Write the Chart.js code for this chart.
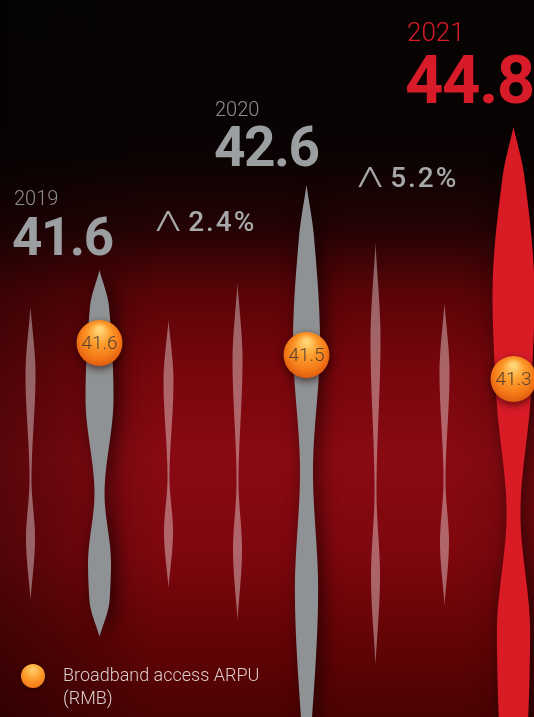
<!DOCTYPE html>
<html lang="en">
<head>
  <meta charset="UTF-8">
  <title>Broadband access ARPU</title>
  <script src="https://cdn.jsdelivr.net/npm/chart.js"></script>
  <style>
    html, body {
      margin: 0;
      padding: 0;
      width: 534px;
      height: 717px;
      overflow: hidden;
    }
    body {
      position: relative;
      font-family: Roboto, "Open Sans", sans-serif;
      background:
        linear-gradient(90deg, rgba(0,0,0,0.35) 0%, rgba(0,0,0,0) 30%, rgba(0,0,0,0) 85%, rgba(0,0,0,0.12) 100%),
        linear-gradient(180deg, #060303 0%, #0b0303 22%, #250304 32%, #5a0407 41%, #78060c 52%, #880a12 64%, #7e070e 77%, #650406 88%, #4c0203 100%);
    }
    #wrap {
      position: absolute;
      left: -4px;
      top: 0;
      width: 552px;
      height: 717px;
    }
    .lbl {
      position: absolute;
      line-height: 1;
      white-space: nowrap;
    }
    .year { font-size: 20px; font-weight: 300; color: #8c8f92; }
    .big { font-size: 53px; font-weight: 700; color: #9c9fa1; letter-spacing: -1.5px; }
    .growth { font-size: 28px; font-weight: 500; color: #a6a8aa; letter-spacing: 2px; }
    .growth span { display: inline-block; font-weight: 300; transform: scaleX(1.45); transform-origin: left center; margin-right: 13px; }
    .red { color: #d81b28; }
    .legend {
      position: absolute;
      left: 21px;
      top: 664px;
      width: 24px;
      height: 24px;
      border-radius: 50%;
      background: radial-gradient(circle at 50% 25%, #ffd06a 0%, #fd9a2a 45%, #f27818 85%, #e2600e 100%);
      box-shadow: 0 2px 4px rgba(30,0,0,0.6);
    }
    .legend-text {
      position: absolute;
      left: 63px;
      top: 663px;
      font-size: 18px;
      font-weight: 300;
      line-height: 23px;
      color: #dccfcf;
    }
  </style>
</head>
<body>
  <div id="wrap"><canvas id="arpuChart"></canvas></div>

  <div class="lbl year" style="left:14px; top:188px;">2019</div>
  <div class="lbl big" style="left:12px; top:211px;">41.6</div>
  <div class="lbl growth" style="left:155px; top:208px;"><span>Λ</span>2.4%</div>

  <div class="lbl year" style="left:215px; top:99px;">2020</div>
  <div class="lbl big" style="left:214px; top:120px; font-size:55px;">42.6</div>
  <div class="lbl growth" style="left:357px; top:164px;"><span>Λ</span>5.2%</div>

  <div class="lbl year red" style="left:407px; top:19px; font-size:26px;">2021</div>
  <div class="lbl big red" style="left:405px; top:47px; font-size:67px;">44.8</div>

  <div class="legend"></div>
  <div class="legend-text">Broadband access ARPU<br>(RMB)</div>

  <script>
    // slots across the picture: the three years plus the decorative needles between them
    const slots = ['', '2019', '', '', '2020', '', '', '2021'];
    const years = ['2019', '2020', '2021'];
    const headlineArpu = [41.6, 42.6, 44.8];
    const growth = ['2.4%', '5.2%'];
    const broadbandArpu = [null, 41.6, null, null, 41.5, null, null, 41.3];

    // spindle spans [bottom, top] on a 0-100 height scale
    const yearSpindles = [null, [11.2, 62.3], null, null, [-7.4, 74.2], null, null, [-11.6, 82.3]];
    const decoSpindles = [[16.3, 57.2], null, [18.0, 55.4], [13.5, 60.5], null, [7.3, 66.1], [15.6, 57.7], null];

    // shape profiles: [position along spindle 0..1, relative width]
    const PROF_2019 = [[0,0],[0.1,0.68],[0.35,1],[0.61,0.36],[0.8,0.82],[0.9,0.72],[1,0]];
    const PROF_2020 = [[0,0],[0.09,0.56],[0.27,1],[0.49,0.48],[0.69,0.86],[0.91,0.41],[1,0]];
    const PROF_2021 = [[0,0],[0.074,0.52],[0.25,1],[0.4,0.82],[0.574,0.33],[0.75,0.79],[0.87,0.71],[1,0]];
    const PROF_DECO = [[0,0],[0.23,1],[0.59,0.2],[0.79,0.9],[1,0]];

    const yearStyle = {
      1: { width: 28, color: '#8f9294', prof: PROF_2019 },
      4: { width: 27, color: '#8f9294', prof: PROF_2020 },
      7: { width: 42, color: '#d91b26', prof: PROF_2021 }
    };

    // shape-preserving cubic through the profile points
    function profileAt(p, t) {
      const n = p.length;
      let i = 0;
      while (i < n - 2 && t > p[i + 1][0]) i++;
      const d = (k) => (p[k + 1][1] - p[k][1]) / (p[k + 1][0] - p[k][0]);
      const tangent = (k) => {
        if (k === 0) return d(0);
        if (k === n - 1) return d(n - 2);
        const d0 = d(k - 1), d1 = d(k);
        if (d0 * d1 <= 0) return 0;
        const h0 = p[k][0] - p[k - 1][0], h1 = p[k + 1][0] - p[k][0];
        return 3 * (h0 + h1) / ((2 * h1 + h0) / d0 + (h1 + 2 * h0) / d1);
      };
      const t0 = p[i][0], w0 = p[i][1], t1 = p[i + 1][0], w1 = p[i + 1][1];
      const h = t1 - t0, s = (t - t0) / h;
      const m0 = tangent(i) * h, m1 = tangent(i + 1) * h;
      const s2 = s * s, s3 = s2 * s;
      return Math.max(0, (2*s3 - 3*s2 + 1) * w0 + (s3 - 2*s2 + s) * m0 + (-2*s3 + 3*s2) * w1 + (s3 - s2) * m1);
    }

    function spindlePath(ctx, cx, top, bottom, maxW, prof) {
      const n = Math.max(2, Math.round(bottom - top));
      ctx.beginPath();
      for (let k = 0; k <= n; k++) {
        const t = k / n;
        ctx.lineTo(cx - profileAt(prof, t) * maxW / 2, top + t * (bottom - top));
      }
      for (let k = n; k >= 0; k--) {
        const t = k / n;
        ctx.lineTo(cx + profileAt(prof, t) * maxW / 2, top + t * (bottom - top));
      }
      ctx.closePath();
    }

    const spindlePlugin = {
      id: 'spindles',
      beforeDatasetDraw(chart, args) {
        const ds = chart.data.datasets[args.index];
        const ctx = chart.ctx;
        if (ds.kind === 'deco' || ds.kind === 'year') {
          args.meta.data.forEach((el, i) => {
            if (!ds.data[i]) return;
            const top = Math.min(el.y, el.base), bottom = Math.max(el.y, el.base);
            ctx.save();
            if (ds.kind === 'deco') {
              ctx.fillStyle = 'rgba(255,255,255,0.38)';
              spindlePath(ctx, el.x, top, bottom, 10, PROF_DECO);
              ctx.fill();
            } else {
              const st = yearStyle[i];
              ctx.shadowColor = 'rgba(0,0,0,0.6)';
              ctx.shadowBlur = 18;
              ctx.shadowOffsetX = 5;
              ctx.fillStyle = st.color;
              spindlePath(ctx, el.x, top, bottom, st.width, st.prof);
              ctx.fill();
            }
            ctx.restore();
          });
          return false;
        }
        if (ds.kind === 'arpu') {
          const r = 23;
          args.meta.data.forEach((el, i) => {
            if (ds.data[i] == null) return;
            const x = el.x, y = el.y;
            ctx.save();
            ctx.shadowColor = 'rgba(30,0,0,0.65)';
            ctx.shadowBlur = 9;
            ctx.shadowOffsetY = 3;
            const g = ctx.createRadialGradient(x, y - r * 0.6, r * 0.1, x, y - r * 0.1, r * 1.05);
            g.addColorStop(0, '#ffd474');
            g.addColorStop(0.4, '#fd9d2c');
            g.addColorStop(0.8, '#f47a18');
            g.addColorStop(1, '#e3610f');
            ctx.fillStyle = g;
            ctx.beginPath();
            ctx.arc(x, y, r, 0, Math.PI * 2);
            ctx.fill();
            ctx.restore();
            ctx.save();
            ctx.fillStyle = '#5a4030';
            ctx.font = '300 19px Roboto, sans-serif';
            ctx.textAlign = 'center';
            ctx.textBaseline = 'middle';
            ctx.fillText(ds.data[i].toFixed(1), x, y + 1);
            ctx.restore();
          });
          return false;
        }
      }
    };

    const ctx = document.getElementById('arpuChart').getContext('2d');
    new Chart(ctx, {
      data: {
        labels: slots,
        datasets: [
          {
            type: 'line',
            kind: 'arpu',
            label: 'Broadband access ARPU (RMB)',
            data: broadbandArpu,
            yAxisID: 'y2',
            showLine: false,
            pointRadius: 0
          },
          {
            type: 'bar',
            kind: 'year',
            data: yearSpindles,
            grouped: false,
            yAxisID: 'y'
          },
          {
            type: 'bar',
            kind: 'deco',
            data: decoSpindles,
            grouped: false,
            yAxisID: 'y'
          }
        ]
      },
      options: {
        responsive: true,
        maintainAspectRatio: false,
        animation: false,
        layout: { padding: 0, autoPadding: false },
        plugins: {
          legend: { display: false },
          tooltip: { enabled: false }
        },
        scales: {
          x: { type: 'category', offset: true, display: false },
          y: { min: 0, max: 100, display: false },
          y2: { min: 38.48, max: 44.46, display: false }
        }
      },
      plugins: [spindlePlugin]
    });
  </script>
</body>
</html>
